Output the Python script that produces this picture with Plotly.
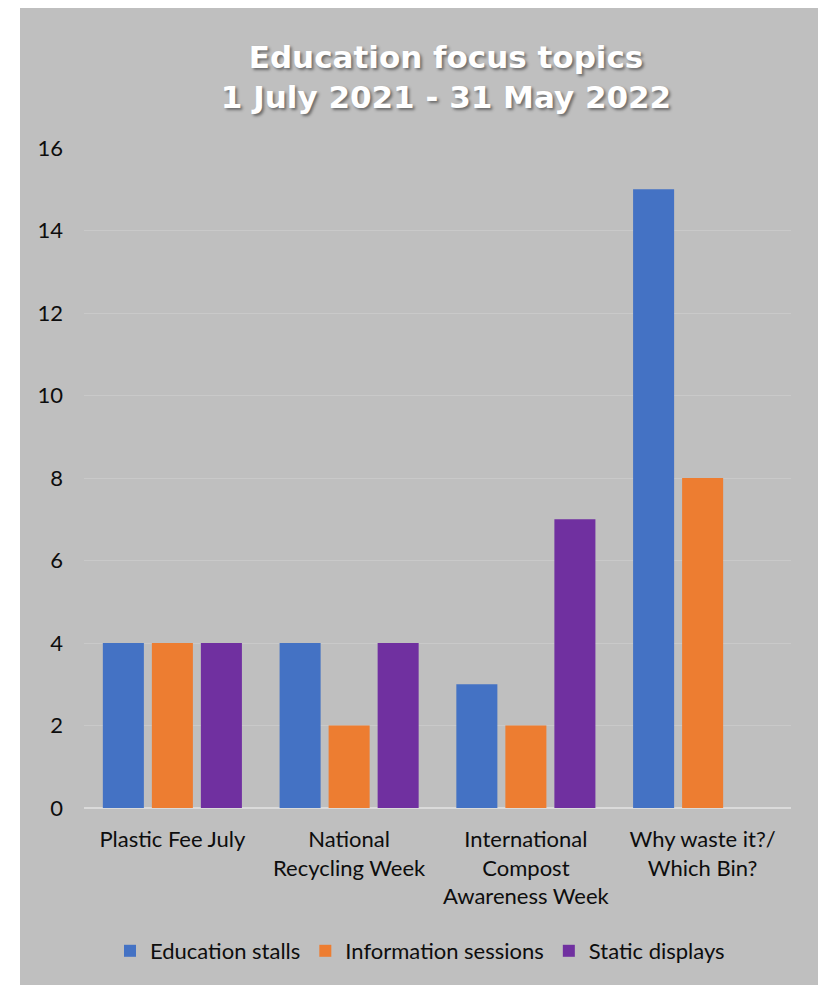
import plotly.graph_objects as go

categories = [
    "Plastic Fee July",
    "National<br>Recycling Week",
    "International<br>Compost<br>Awareness Week",
    "Why waste it?/<br>Which Bin?",
]
education_stalls = [4, 4, 3, 15]
information_sessions = [4, 2, 2, 8]
static_displays = [4, 4, 7, 0]

series_names = ["Education stalls", "Information sessions", "Static displays"]
series_values = [education_stalls, information_sessions, static_displays]
series_colors = ["#4472C4", "#ED7D31", "#7030A0"]

y_ticks = [0, 2, 4, 6, 8, 10, 12, 14, 16]

# figure is drawn inside the page body (8px default margin)
W, H = 818, 977
L, R, T, B = 76, 35, 140, 177
PW, PH = W - L - R, H - T - B

FONT = "Lato"
TXT = "#0d0d0d"
BG = "#bfbfbf"

fig = go.Figure()
for name, vals, col in zip(series_names, series_values, series_colors):
    fig.add_trace(go.Bar(
        x=categories, y=vals, name=name,
        marker=dict(color=col, line=dict(width=0)),
    ))

def px_x(p):
    return (p - L) / PW

def px_y(p):
    return (H - B - p) / PH

shapes = [
    # white strips outside the grey chart area
    dict(type="rect", xref="paper", yref="paper", layer="above",
         x0=px_x(0), x1=px_x(12), y0=px_y(H), y1=px_y(0),
         fillcolor="white", line=dict(width=0)),
    dict(type="rect", xref="paper", yref="paper", layer="above",
         x0=px_x(813), x1=px_x(W), y0=px_y(H), y1=px_y(0),
         fillcolor="white", line=dict(width=0)),
]

fig.update_layout(
    width=W, height=H,
    margin=dict(l=L, r=R, t=T, b=B, pad=0),
    paper_bgcolor=BG,
    plot_bgcolor=BG,
    font=dict(family=FONT, size=22, color=TXT),
    barmode="group",
    bargap=0.168,
    bargroupgap=0.163,
    title=dict(
        text="Education focus topics<br>1 July 2021 - 31 May 2022",
        x=438 / W, xanchor="center",
        y=1 - 60 / H, yanchor="middle",
        xref="container", yref="container",
        font=dict(family="DejaVu Sans", size=31, color="white", weight="bold",
                  shadow="2px 2px 3px rgba(0,0,0,0.45)"),
    ),
    xaxis=dict(
        showgrid=False, showline=False, zeroline=False,
        ticks="", tickfont=dict(size=22, color=TXT),
        ticklabelstandoff=16,
    ),
    yaxis=dict(
        range=[0, 16], tickvals=y_ticks, ticktext=[str(v) for v in y_ticks],
        showgrid=True, gridcolor="#c9c9c9", gridwidth=1,
        zeroline=True, zerolinecolor="#dadada", zerolinewidth=2,
        showline=False, ticks="", tickfont=dict(size=22, color=TXT),
        ticklabelstandoff=20,
    ),
    legend=dict(
        orientation="h", x=(412 - L) / PW, xanchor="center",
        y=px_y(943), yanchor="middle",
        font=dict(size=22, color=TXT), bgcolor="rgba(0,0,0,0)",
        itemwidth=30, tracegroupgap=0,
    ),
    shapes=shapes,
    showlegend=True,
)

fig.write_html("out.html", config={"displayModeBar": False})
